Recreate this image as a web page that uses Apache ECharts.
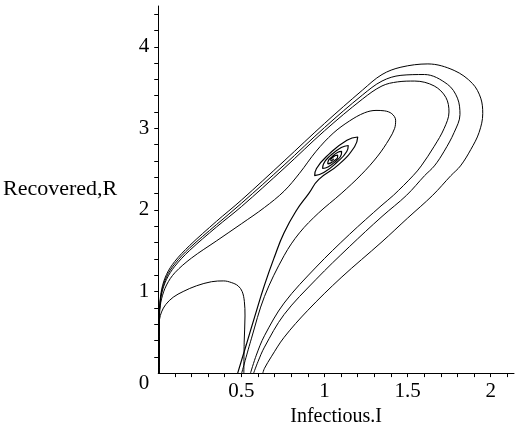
<!DOCTYPE html>
<html><head><meta charset="utf-8">
<script src="https://cdn.jsdelivr.net/npm/echarts@6/dist/echarts.min.js"></script>
<style>html,body{margin:0;padding:0;background:#fff}#c{width:515px;height:432px}</style>
</head><body><div id="c"></div>
<script>
// Axis ticks and labels
const xTicks = [0.1,0.2,0.3,0.4,0.5,0.6,0.7,0.8,0.9,1.0,1.1,1.2,1.3,1.4,1.5,1.6,1.7,1.8,1.9,2.0,2.1];
const yTicks = [0.2,0.4,0.6,0.8,1.0,1.2,1.4,1.6,1.8,2.0,2.2,2.4,2.6,2.8,3.0,3.2,3.4,3.6,3.8,4.0,4.2,4.4];
const xLabels = [0.5,1,1.5,2];
const yLabels = [0,1,2,3,4];
const xName = 'Infectious.I';
const yName = 'Recovered,R';

// Trajectories [I, R]
const orbitOuter = [[0.629,0],[0.639,0.058],[0.68,0.2],[0.757,0.438],[0.9,0.77],[1.1,1.17],[1.346,1.61],[1.5,1.9],[1.651,2.18],[1.76,2.42],[1.818,2.54],[1.88,2.74],[1.93,2.95],[1.952,3.18],[1.94,3.37],[1.89,3.55],[1.78,3.71],[1.622,3.79],[1.46,3.75],[1.346,3.66],[1.229,3.47],[1.0,3.06],[0.757,2.6],[0.5,2.12],[0.35,1.86],[0.187,1.56],[0.1,1.37],[0.05,1.21],[0.02,1.02],[0.008,0.8],[0.005,0.6],[0.005,0.3],[0.005,0]];
const orbitMiddle = [[0.574,0],[0.6,0.14],[0.639,0.318],[0.757,0.718],[0.95,1.15],[1.15,1.55],[1.346,1.92],[1.494,2.18],[1.602,2.42],[1.661,2.54],[1.72,2.72],[1.78,2.95],[1.815,3.17],[1.8,3.37],[1.74,3.54],[1.602,3.66],[1.46,3.65],[1.346,3.58],[1.229,3.41],[1.0,3.01],[0.757,2.55],[0.5,2.08],[0.35,1.82],[0.187,1.53],[0.1,1.34],[0.05,1.18],[0.02,0.99],[0.008,0.79],[0.005,0.6],[0.005,0.3],[0.005,0]];
const orbitInner = [[0.555,0],[0.59,0.22],[0.639,0.458],[0.757,0.858],[0.95,1.3],[1.15,1.7],[1.346,2.06],[1.415,2.18],[1.533,2.42],[1.582,2.54],[1.66,2.78],[1.72,3.0],[1.749,3.2],[1.73,3.38],[1.66,3.52],[1.543,3.58],[1.44,3.57],[1.346,3.52],[1.229,3.36],[1.0,2.97],[0.757,2.51],[0.5,2.04],[0.35,1.79],[0.187,1.5],[0.1,1.31],[0.05,1.15],[0.02,0.97],[0.008,0.78],[0.005,0.6],[0.005,0.3],[0.005,0]];
const orbitSmall = [[0.502,0],[0.56,0.42],[0.639,0.939],[0.757,1.44],[0.85,1.72],[0.963,1.96],[1.1,2.2],[1.22,2.43],[1.32,2.66],[1.39,2.87],[1.422,3.0],[1.428,3.1],[1.405,3.18],[1.36,3.215],[1.31,3.22],[1.24,3.19],[1.15,3.09],[1.052,2.94],[0.95,2.72],[0.85,2.45],[0.757,2.23],[0.639,2.03],[0.5,1.83],[0.35,1.62],[0.2,1.41],[0.1,1.23],[0.05,1.08],[0.02,0.91],[0.008,0.74],[0.005,0.6],[0.005,0.3],[0.005,0]];
const spiralPath = [[0.478,0],[0.53,0.35],[0.58,0.69],[0.639,1.078],[0.7,1.43],[0.757,1.72],[0.83,1.99],[0.905,2.2],[0.966,2.374],[1.087,2.558],[1.181,2.775],[1.2,2.894],[1.135,2.855],[1.029,2.687],[0.952,2.508],[0.941,2.42],[0.996,2.458],[1.075,2.584],[1.134,2.717],[1.143,2.79],[1.101,2.765],[1.037,2.669],[0.994,2.563],[0.989,2.508],[1.021,2.527],[1.069,2.598],[1.101,2.678],[1.103,2.717],[1.078,2.705],[1.045,2.651],[1.022,2.597],[1.02,2.565],[1.039,2.577],[1.063,2.611],[1.079,2.65],[1.079,2.673],[1.066,2.667],[1.049,2.642],[1.038,2.616],[1.04,2.601],[1.05,2.615],[1.055,2.629]];
const bumpPath = [[0.515,0],[0.517,0.38],[0.522,0.7],[0.518,0.88],[0.505,1.0],[0.48,1.07],[0.44,1.11],[0.394,1.13],[0.32,1.12],[0.23,1.07],[0.15,1.0],[0.09,0.93],[0.045,0.84],[0.02,0.75],[0.008,0.66],[0.005,0.55],[0.005,0.3],[0.005,0]];

const paths = [orbitOuter, orbitMiddle, orbitInner, orbitSmall, spiralPath, bumpPath];

const font = 'Liberation Serif';
const chart = echarts.init(document.getElementById('c'), null, {renderer: 'canvas'});
chart.setOption({
  animation: false,
  backgroundColor: '#fff',
  grid: {left: 151, top: 6, width: 363, height: 375, containLabel: false},
  xAxis: {
    type: 'value', min: 0, max: 2.14,
    name: xName, nameLocation: 'middle', nameGap: 29,
    nameTextStyle: {fontFamily: font, fontSize: 20, color: '#000'},
    axisLine: {lineStyle: {color: '#000', width: 1}},
    axisTick: {show: true, customValues: xTicks, length: 4, lineStyle: {color: '#000'}},
    axisLabel: {customValues: xLabels, margin: 8, fontFamily: font, fontSize: 21, color: '#000'},
    splitLine: {show: false}
  },
  yAxis: {
    type: 'value', min: 0, max: 4.5,
    name: yName, nameLocation: 'middle', nameGap: 41, nameRotate: 0,
    nameTextStyle: {fontFamily: font, fontSize: 22, color: '#000', padding: [6,0,0,0]},
    axisLine: {lineStyle: {color: '#000', width: 1}},
    axisTick: {show: true, customValues: yTicks, length: 4, lineStyle: {color: '#000'}},
    axisLabel: {customValues: yLabels, margin: 9, fontFamily: font, fontSize: 21, color: '#000',
      verticalAlignMinLabel: 'top'},
    splitLine: {show: false}
  },
  series: paths.map((p, i) => ({
    type: 'line', data: p, showSymbol: false, smooth: i === 4 ? 0.5 : 0.35,
    lineStyle: {color: '#000', width: i === 4 ? 1.2 : 1},
    silent: true
  }))
});
</script></body></html>
